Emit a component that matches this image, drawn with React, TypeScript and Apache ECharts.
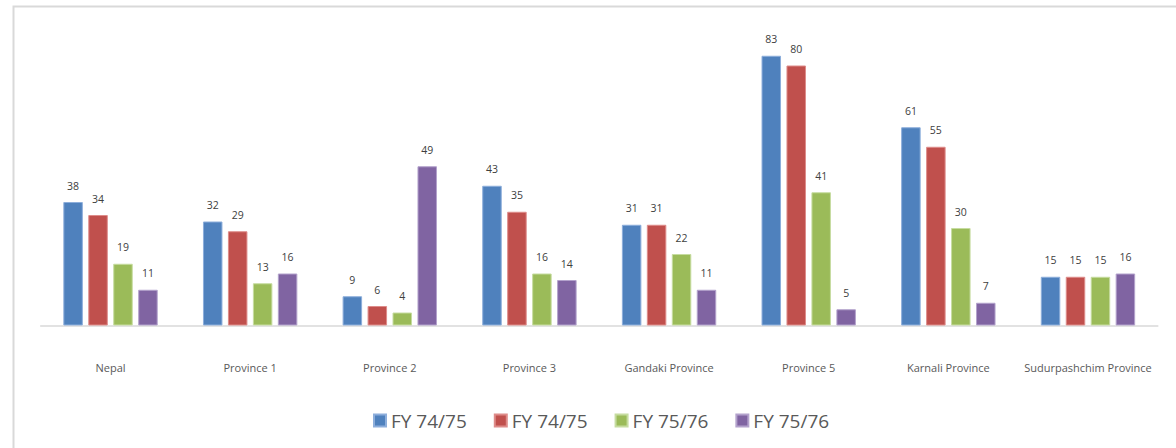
import React, { useEffect, useRef } from "react";
import * as echarts from "echarts";

const categories = [
  "Nepal",
  "Province 1",
  "Province 2",
  "Province 3",
  "Gandaki Province",
  "Province 5",
  "Karnali Province",
  "Sudurpashchim Province",
];

const seriesKeys = ["s1", "s2", "s3", "s4"];
const legendLabels = ["FY 74/75", "FY 74/75", "FY 75/76", "FY 75/76"];
const colors = ["#4F81BD", "#C0504D", "#9BBB59", "#8064A2"];
const edgeColors = ["#8DAEDB", "#DE8C8A", "#C6DCA0", "#B3A2CC"];

const fy7475a = [38, 32, 9, 43, 31, 83, 61, 15];
const fy7475b = [34, 29, 6, 35, 31, 80, 55, 15];
const fy7576a = [19, 13, 4, 16, 22, 41, 30, 15];
const fy7576b = [11, 16, 49, 14, 11, 5, 7, 16];

const seriesData = [fy7475a, fy7475b, fy7576a, fy7576b];

const FONT = "'Open Sans', 'Noto Sans', sans-serif";

export default function App() {
  const ref = useRef<HTMLDivElement>(null);

  useEffect(() => {
    document.body.style.margin = "0";
    if (!ref.current) return;
    const chart = echarts.init(ref.current, null, { renderer: "svg" });
    chart.setOption({
      animation: false,
      backgroundColor: "#ffffff",
      graphic: [
        {
          type: "rect",
          shape: { x: 13.5, y: 6.5, width: 1300, height: 600 },
          style: { fill: "none", stroke: "#d9d9d9", lineWidth: 2 },
          silent: true,
          z: -1,
        },
      ],
      grid: { left: 40.7, right: 1176 - 1157.8, top: 33, bottom: 448 - 325.5 },
      legend: {
        left: 373,
        top: 411,
        padding: 0,
        itemWidth: 12,
        itemHeight: 12,
        itemGap: 27,
        icon: "rect",
        data: seriesKeys,
        formatter: (name: string) => legendLabels[seriesKeys.indexOf(name)],
        textStyle: { fontFamily: FONT, fontSize: 19, color: "#595959" },
      },
      xAxis: {
        type: "category",
        data: categories,
        axisTick: { show: false },
        axisLine: { lineStyle: { color: "#d9d9d9", width: 1.5 } },
        axisLabel: {
          margin: 36,
          interval: 0,
          fontFamily: FONT,
          fontSize: 11,
          color: "#595959",
        },
      },
      yAxis: {
        type: "value",
        min: 0,
        max: 90,
        show: false,
        splitLine: { show: false },
      },
      series: seriesKeys.map((key, i) => ({
        name: key,
        type: "bar",
        data: seriesData[i],
        barWidth: 19.5,
        barGap: "28%",
        itemStyle: {
          color: colors[i],
          borderColor: edgeColors[i],
          borderWidth: 1,
        },
        label: {
          show: true,
          position: "top",
          distance: 11,
          fontFamily: FONT,
          fontSize: 10.5,
          color: "#404040",
        },
      })),
    });
    return () => chart.dispose();
  }, []);

  return (
    <div
      ref={ref}
      style={{ position: "absolute", left: 0, top: 0, width: 1176, height: 448 }}
    />
  );
}
